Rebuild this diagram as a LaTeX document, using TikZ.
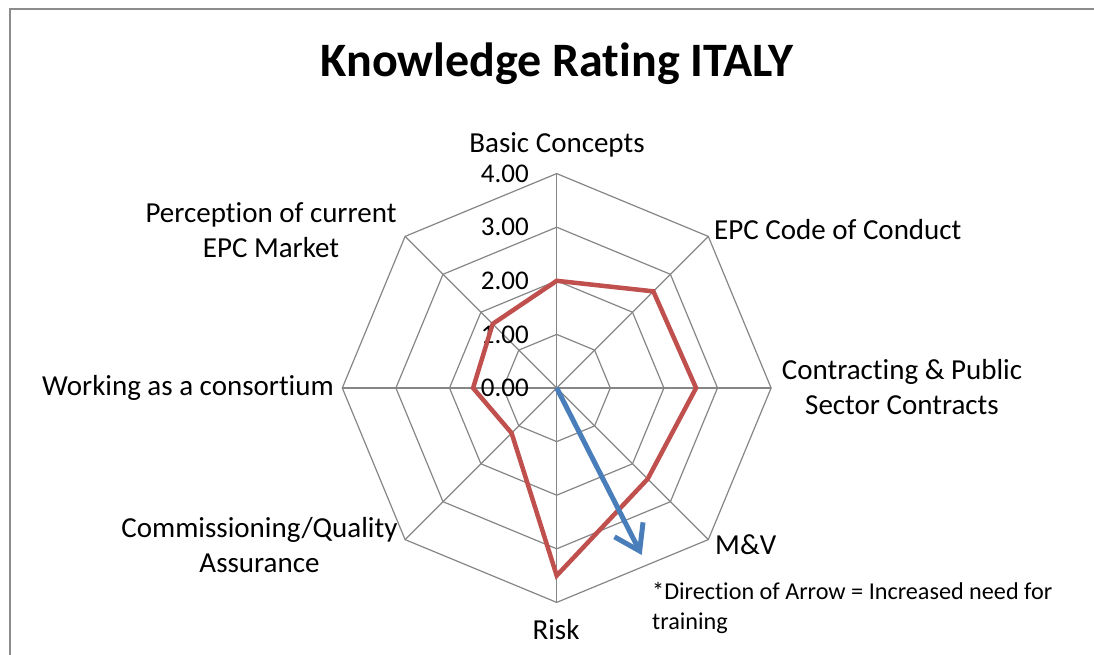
\documentclass[tikz,border=0pt]{standalone}
\usepackage{fontspec}
\setmainfont{Carlito}[RawFeature={-liga;-clig;-dlig}]
\usetikzlibrary{arrows.meta}
\definecolor{gridgray}{HTML}{868686}
\definecolor{frameGray}{HTML}{8C8C8C}
\definecolor{serieRed}{HTML}{C0504D}
\definecolor{arrowBlue}{HTML}{4A7EBB}
\begin{document}
\begin{tikzpicture}[x=1pt,y=-1pt,
  gridline/.style={draw=gridgray, line width=1.2pt},
  lbl/.style={font=\fontsize{29}{35}\selectfont, align=center, inner sep=0pt},
  ticklbl/.style={font=\fontsize{27}{32}\selectfont, anchor=east, inner sep=0pt},
  notelbl/.style={font=\fontsize{24.2}{30}\selectfont, align=left, inner sep=0pt, anchor=west},
  series/.style={draw=serieRed, line width=4.5pt, line join=miter},
  trend/.style={draw=arrowBlue, line width=5pt, -{Straight Barb[length=24pt,width=32pt]}}]
\useasboundingbox (0,0) rectangle (1094,655);
\fill[white] (0,0) rectangle (1094,655);
\draw[frameGray, line width=2pt] (9.5,665) -- (9.5,9) -- (1100,9);
\node[font=\bfseries\fontsize{48}{57}\selectfont, inner sep=0pt] (title) at (557,64) {Knowledge Rating ITALY};
\coordinate (c) at (556.7,388);
\begin{scope}[shift={(556.7,388)}, y=1pt]
  \foreach \r in {1,2,3,4}{
    \draw[gridline] (0:\r*53.6) -- (45:\r*53.6) -- (90:\r*53.6) -- (135:\r*53.6) -- (180:\r*53.6) -- (225:\r*53.6) -- (270:\r*53.6) -- (315:\r*53.6) -- cycle;
  }
  \foreach \a in {0,45,...,315}{
    \draw[gridline] (0,0) -- (\a:214.4);
  }
  \coordinate (p1) at (90:2.0*53.6);
  \coordinate (p2) at (45:2.55*53.6);
  \coordinate (p3) at (0:2.6*53.6);
  \coordinate (p4) at (-45:2.4*53.6);
  \coordinate (p5) at (-90:3.5*53.6);
  \coordinate (p6) at (-135:1.19*53.6);
  \coordinate (p7) at (180:1.56*53.6);
  \coordinate (p8) at (135:1.69*53.6);
  \coordinate (tip) at (85,-167);
  \foreach \v/\t in {0/0.00,1/1.00,2/2.00,3/3.00,4/4.00}{
    \node[ticklbl] (t\v) at (-27.7,\v*53.6) {\t};
  }
\end{scope}
\draw[series] (p1) -- (p2) -- (p3) -- (p4) -- (p5) -- (p6) -- (p7) -- (p8) -- cycle;
\draw[trend] (c) -- (tip);
\node[lbl] (basic) at (557,145) {Basic Concepts};
\node[lbl, anchor=west] (code) at (714,230) {EPC Code of Conduct};
\node[lbl] (contr) at (902,387.5) {Contracting \& Public\\Sector Contracts};
\node[lbl, anchor=west] (mv) at (715,545) {M\&V};
\node[lbl] (risk) at (556,630) {Risk};
\node[lbl] (comm) at (259.5,545.5) {Commissioning/Quality\\Assurance};
\node[lbl, anchor=east] (cons) at (334,388) {Working as a consortium};
\node[lbl] (perc) at (271,230.5) {Perception of current\\EPC Market};
\node[notelbl] (note) at (652,608) {*Direction of Arrow = Increased need for\\training};
\end{tikzpicture}
\end{document}
